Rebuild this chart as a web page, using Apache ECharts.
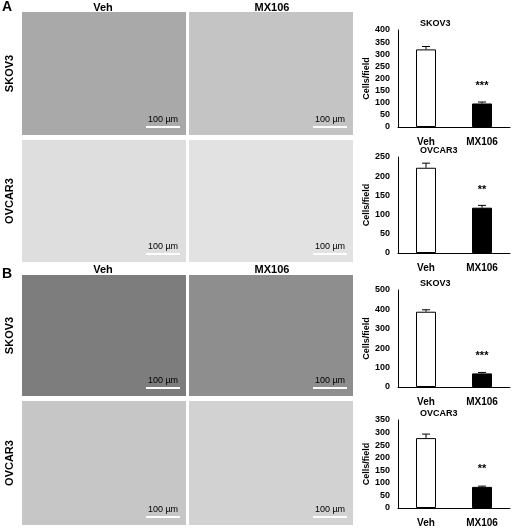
<!DOCTYPE html>
<html><head><meta charset="utf-8">
<script src="https://cdn.jsdelivr.net/npm/echarts@6/dist/echarts.min.js"></script>
<style>html,body{margin:0;background:#fff}#c{width:520px;height:532px}</style>
</head><body><div id="c"></div>
<script>
// bar chart data
const groups = ['Veh', 'MX106'];
const titles = ['SKOV3', 'OVCAR3', 'SKOV3', 'OVCAR3'];
const means = [[320, 97], [222, 118], [388, 70], [278, 84]];
const errs = [[12, 6], [12, 6], [10, 5], [16, 3]];
const stars = ['***', '**', '***', '**'];
const yMax = [400, 250, 500, 350];
const yStep = [50, 50, 100, 50];

const grids = [
    { left: 398, top: 30, width: 112, height: 97 },
    { left: 398, top: 157, width: 112, height: 96 },
    { left: 398, top: 290, width: 112, height: 97 },
    { left: 398, top: 420, width: 112, height: 88 }
];

const chart = echarts.init(document.getElementById('c'));
const font = 'Liberation Sans';
const series = [];
means.forEach((m, i) => {
    series.push({
        type: 'bar', xAxisIndex: i, yAxisIndex: i, barWidth: 20,
        data: m.map((v, j) => ({
            value: v,
            itemStyle: { color: j === 0 ? '#fff' : '#000', borderColor: '#000', borderWidth: 1 },
            label: j === 1 ? { show: true, position: 'top', distance: 12, formatter: stars[i], fontSize: 11, fontWeight: 'bold', color: '#000' } : { show: false }
        }))
    });
    series.push({
        type: 'custom', xAxisIndex: i, yAxisIndex: i, z: 1,
        data: m.map((v, j) => [j, v, errs[i][j]]),
        renderItem: (params, api) => {
            const p = api.coord([api.value(0), api.value(1)]);
            const t = api.coord([api.value(0), api.value(1) + api.value(2)]);
            return { type: 'group', children: [
                { type: 'line', shape: { x1: p[0], y1: p[1], x2: t[0], y2: t[1] }, style: { stroke: '#000', lineWidth: 1 } },
                { type: 'line', shape: { x1: t[0] - 4, y1: t[1], x2: t[0] + 4, y2: t[1] }, style: { stroke: '#000', lineWidth: 1 } }
            ] };
        }
    });
});

// image panel placeholders
const panels = [
    { y: 12, h: 123, fill: ['#a9a9a9', '#c4c4c4'] },
    { y: 140, h: 122, fill: ['#dedede', '#e2e2e2'] },
    { y: 275, h: 121, fill: ['#7d7d7d', '#8e8e8e'] },
    { y: 401, h: 124, fill: ['#c6c6c6', '#d2d2d2'] }
];
const rowNames = ['SKOV3', 'OVCAR3', 'SKOV3', 'OVCAR3'];
const graphic = [
    { type: 'text', left: 2, top: 0, style: { text: 'A', font: 'bold 14px ' + font } },
    { type: 'text', left: 2, top: 267, style: { text: 'B', font: 'bold 14px ' + font } }
];
[2, 264].forEach(y => {
    graphic.push({ type: 'text', x: 103, y: y, style: { text: 'Veh', font: 'bold 11px ' + font, align: 'center' } });
    graphic.push({ type: 'text', x: 272, y: y, style: { text: 'MX106', font: 'bold 11px ' + font, align: 'center' } });
});
panels.forEach((p, i) => {
    [22, 189].forEach((x, k) => {
        graphic.push({ type: 'rect', shape: { x: x, y: p.y, width: 164, height: p.h }, style: { fill: p.fill[k] } });
        graphic.push({ type: 'line', shape: { x1: x + 124, y1: p.y + p.h - 8, x2: x + 158, y2: p.y + p.h - 8 }, style: { stroke: '#fff', lineWidth: 2 } });
        graphic.push({ type: 'text', x: x + 141, y: p.y + p.h - 20, style: { text: '100 µm', font: '9px ' + font, align: 'center', fill: '#000' } });
    });
    graphic.push({ type: 'text', x: 10, y: p.y + p.h / 2, rotation: Math.PI / 2, style: { text: rowNames[i], font: 'bold 11px ' + font, align: 'center', verticalAlign: 'middle' } });
});

chart.setOption({
    animation: false,
    textStyle: { fontFamily: font },
    title: titles.map((t, i) => ({ text: t, left: 415, top: grids[i].top - 16, textStyle: { fontSize: 9, fontWeight: 'bold', color: '#000' } })),
    grid: grids,
    xAxis: grids.map((g, i) => ({
        type: 'category', gridIndex: i, data: groups,
        axisLine: { lineStyle: { color: '#000' } }, axisTick: { show: false },
        axisLabel: { color: '#000', fontWeight: 'bold', fontSize: 10, margin: 10 }
    })),
    yAxis: grids.map((g, i) => ({
        type: 'value', gridIndex: i, min: 0, max: yMax[i], interval: yStep[i],
        name: 'Cells/field', nameLocation: 'middle', nameGap: 26, nameRotate: 90,
        nameTextStyle: { fontSize: 9, fontWeight: 'bold', color: '#000' },
        axisLine: { show: true, lineStyle: { color: '#000' } }, axisTick: { show: false },
        splitLine: { show: false },
        axisLabel: { color: '#000', fontWeight: 'bold', fontSize: 9 }
    })),
    series: series,
    graphic: graphic
});
</script></body></html>
